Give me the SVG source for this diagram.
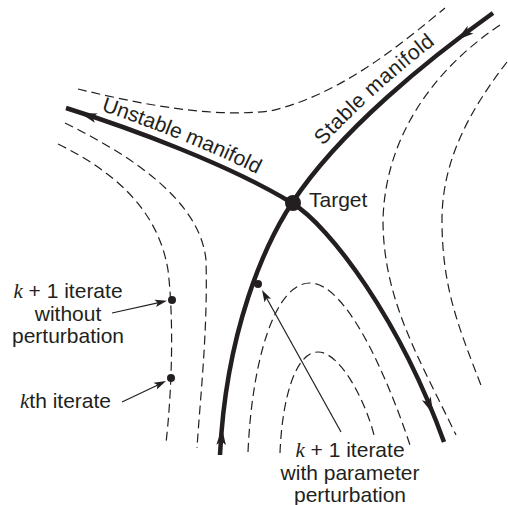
<svg xmlns="http://www.w3.org/2000/svg" width="508" height="505" viewBox="0 0 508 505">
<style>
.bg{fill:#ffffff}
.thick{fill:none;stroke:#231f20;stroke-width:4.5;stroke-linecap:butt}
.dash{fill:none;stroke:#231f20;stroke-width:1.2;stroke-dasharray:9 5}
.thin{fill:none;stroke:#231f20;stroke-width:1.2}
.fill{fill:#231f20;stroke:none}
.lbl{font-family:"Liberation Sans",Arial,Helvetica,sans-serif;font-size:21px;fill:#231f20}
.k{font-family:"Liberation Serif","Times New Roman",serif;font-style:italic}
</style>
<defs>
<path id="bigHead" d="M0,0 L-17,-4.8 L-13,0 L-17,4.8 Z"/>
<path id="smallHead" d="M0,0 L-12,-3.8 L-9.5,0 L-12,3.8 Z"/>
<path id="unstableText" d="M69,100 C 133,120 234,157.5 296,195.5"/>
<path id="stableText" d="M283,197 C 332,123 424,50 487,5"/>
</defs>
<rect class="bg" x="0" y="0" width="508" height="505"/>
<g id="flowlines">
<path class="dash" d="M78,89 C 140,104 210,118 270,111 C 340,95 400,45 445,8"/>
<path class="dash" d="M65,123 C 130,155 200,200 206,260 C 208,330 200,400 197,448"/>
<path class="dash" d="M58,144 C 115,172 158,210 168,270 C 174,320 172,390 166,443"/>
<path class="dash" d="M500,25 C 430,72 385,140 383,220 C 383,300 420,360 456,435"/>
<path class="dash" d="M507,62 C 470,110 442,160 442,220 C 442,290 460,330 482,388"/>
<path class="dash" d="M248,452 C 252,360 275,283 310,283 C 345,283 385,370 410,445"/>
<path class="dash" d="M280,453 C 282,400 295,352 318,352 C 340,352 365,400 374,435"/>
</g>
<g id="unstable-manifold">
<path class="thick" d="M66,108 C 130,128 230,165 292,203 C 330,226 400,320 444,442"/>
<use href="#bigHead" class="fill" transform="translate(80,113) rotate(197.3)"/>
<use href="#bigHead" class="fill" transform="translate(433,414) rotate(67)"/>
<text class="lbl"><textPath href="#unstableText" startOffset="34">Unstable manifold</textPath></text>
</g>
<g id="stable-manifold">
<path class="thick" d="M493,13 C 430,58 340,130 292,203 C 265,244 226,330 220,455"/>
<use href="#bigHead" class="fill" transform="translate(457,40) rotate(142.6)"/>
<use href="#bigHead" class="fill" transform="translate(222,428) rotate(-87)"/>
<text class="lbl" letter-spacing="0.5"><textPath href="#stableText" startOffset="65">Stable manifold</textPath></text>
</g>
<g id="target">
<circle class="fill" cx="293" cy="203" r="8"/>
<text class="lbl" x="309" y="207">Target</text>
</g>
<g id="connectors">
<line class="thin" x1="112" y1="313" x2="160" y2="302.3"/>
<use href="#smallHead" class="fill" transform="translate(167,300.8) rotate(-12.5)"/>
<line class="thin" x1="122" y1="402" x2="160" y2="384"/>
<use href="#smallHead" class="fill" transform="translate(166,381) rotate(-25.5)"/>
<line class="thin" x1="341" y1="432" x2="266" y2="297"/>
<use href="#smallHead" class="fill" transform="translate(262,290) rotate(-119)"/>
</g>
<g id="k1-without">
<circle class="fill" cx="172" cy="300" r="4"/>
<text class="lbl" text-anchor="middle"><tspan x="68" y="298"><tspan class="k">k</tspan> + 1 iterate</tspan><tspan x="68" y="320.5">without</tspan><tspan x="68" y="343">perturbation</tspan></text>
</g>
<g id="kth">
<circle class="fill" cx="171" cy="378" r="4"/>
<text class="lbl" x="20" y="408"><tspan class="k">k</tspan>th iterate</text>
</g>
<g id="k1-with">
<circle class="fill" cx="258" cy="284" r="4"/>
<text class="lbl" text-anchor="middle"><tspan x="350" y="457"><tspan class="k">k</tspan> + 1 iterate</tspan><tspan x="350" y="479.5">with parameter</tspan><tspan x="350" y="502">perturbation</tspan></text>
</g>
</svg>
